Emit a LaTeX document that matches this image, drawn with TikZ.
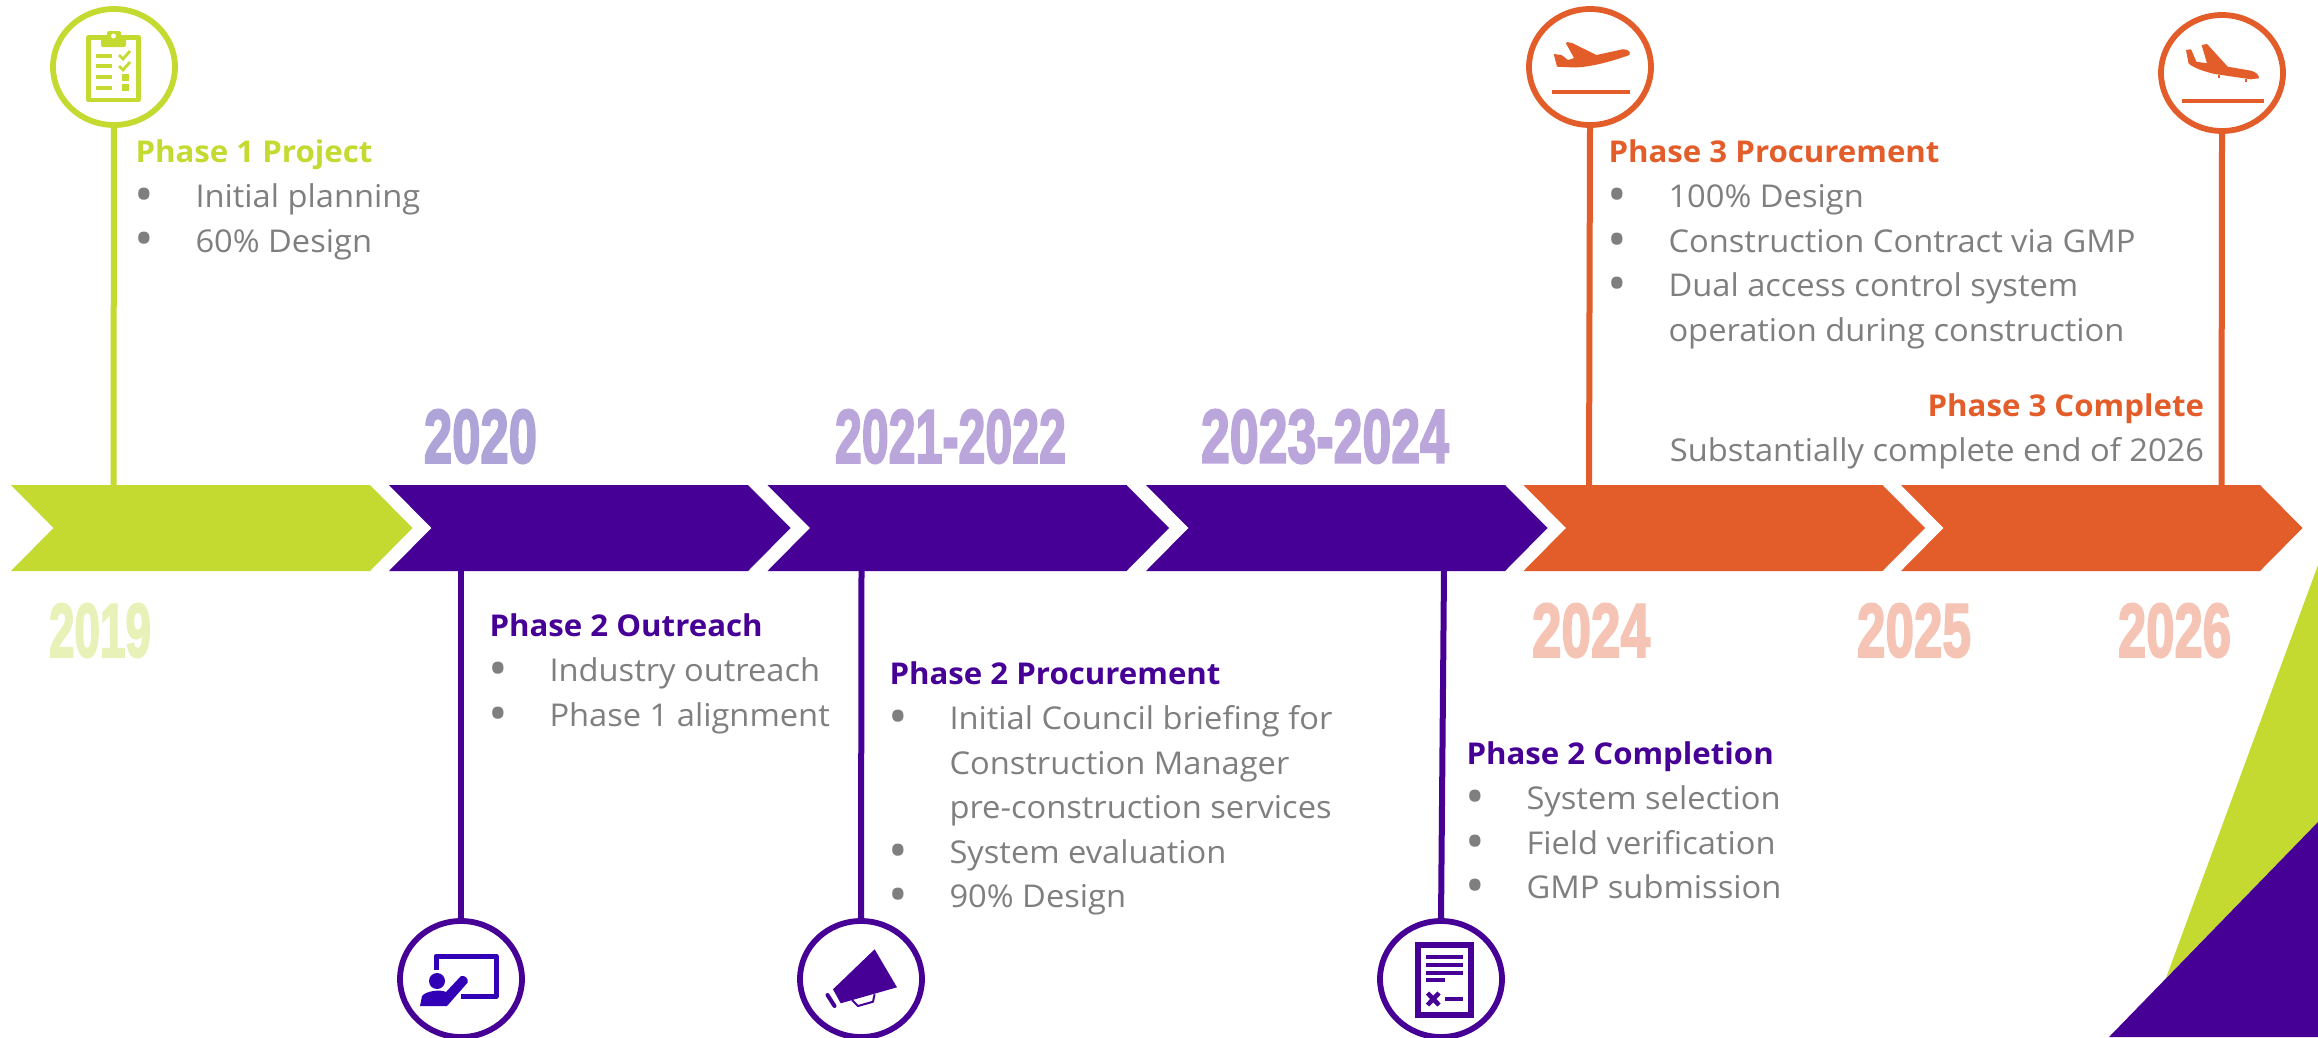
\documentclass[tikz,border=0pt]{standalone}
\usepackage{fontspec}
\usetikzlibrary{shapes.geometric}
\setmainfont[FakeStretch=1.04]{Open Sans}
\newfontfamily\yearfont[FakeBold=3]{Liberation Sans Bold}
\definecolor{lime}{HTML}{C4DA30}
\definecolor{indigo}{HTML}{460096}
\definecolor{flame}{HTML}{E35D2B}
\definecolor{bodygray}{HTML}{7F7F7F}
\definecolor{ylime}{HTML}{E8F2B8}
\definecolor{ypurpa}{HTML}{AEA4D8}
\definecolor{ypurpb}{HTML}{BBA6DB}
\definecolor{yflame}{HTML}{F5C4B5}
\newcommand{\hdg}[2]{\textcolor{#1}{\fontsize{30}{44.6}\selectfont\bfseries #2}}
\newcommand{\bul}[1]{\makebox[60pt][l]{\hspace*{-1.5pt}\raisebox{-5pt}{\scalebox{1.6}{\textbullet}}}#1}
\newcommand{\cont}[1]{\makebox[60pt][l]{}#1}
\newcommand{\yr}[3]{\resizebox{#1pt}{#2pt}{\yearfont #3}}
\newcommand{\chev}[3]{%
  \fill[#3] (#1,485) -- ++(359,0) -- ++(42.5,43) -- ++(-42.5,43) -- ++(-359,0) -- ++(42.5,-43) -- cycle;
  \coordinate (#2-l) at (#1,485);}
\tikzset{
  blk/.style={inner sep=0pt,outer sep=0pt,text=bodygray,align=left,anchor=north west,
    font=\fontsize{31.4}{44.6}\selectfont},
  blkr/.style={blk,align=right,anchor=north east},
  ring/.style={ellipse,draw=#1,line width=5.8pt,fill=white,minimum width=122pt,minimum height=116pt,inner sep=0pt,outer sep=0pt},
  stem/.style={draw=#1,line width=6pt},
  year/.style={inner sep=0pt,outer sep=0pt,text=#1},
}
\begin{document}
\begin{tikzpicture}[x=1pt,y=-1pt]
\clip (0,0) rectangle (2318,1037);
\fill[white] (0,0) rectangle (2318,1037);
% corner triangles
\fill[lime] (2318,565) -- (2166,978) -- (2318,822) -- cycle;
\fill[indigo] (2109,1037) -- (2318,822) -- (2318,1037) -- cycle;
% rings
\node[ring=lime] (c1) at (114,67) {};
\node[ring=indigo] (c2) at (461,979) {};
\node[ring=indigo] (c3) at (861,979) {};
\node[ring=indigo] (c4) at (1441,979) {};
\node[ring=flame] (c5) at (1590,67) {};
\node[ring=flame] (c6) at (2222,73) {};
% stem ends on the bar
\coordinate (s1) at (113.5,486);
\coordinate (s2) at (461,570);
\coordinate (s3) at (861.5,570);
\coordinate (s4) at (1444,570);
\coordinate (s5) at (1589,486);
\coordinate (s6) at (2221.5,486);
\draw[stem=lime] (c1.south) -- (s1);
\draw[stem=indigo] (c2.north) -- (s2);
\draw[stem=indigo] (c3.north) -- (s3);
\draw[stem=indigo] (c4.north) -- (s4);
\draw[stem=flame] (c5.south) -- (s5);
\draw[stem=flame] (c6.south) -- (s6);
% chevrons
\chev{11}{b1}{lime}
\chev{389}{b2}{indigo}
\chev{767.5}{b3}{indigo}
\chev{1146}{b4}{indigo}
\chev{1523.5}{b5}{flame}
\chev{1901}{b6}{flame}
% clipboard icon
\draw[lime,line width=4.5pt,line join=round] (88.5,37.5) rectangle (138.5,100);
\fill[lime,rounded corners=2pt] (101,37) -- (107,37) -- (107,31) -- (121,31) -- (121,37) -- (126,37) -- (126,47) -- (101,47) -- cycle;
\fill[white] (113.5,36) circle (2.5pt);
\foreach \yy in {56,65.7,77,88} \fill[lime] (96,\yy-2) rectangle (112,\yy+2);
\draw[lime,line width=2.8pt] (119,55) -- (123,59) -- (130,51);
\draw[lime,line width=2.8pt] (119,66) -- (123,70) -- (130,62);
\fill[lime] (122,74) rectangle (129,81);
\fill[lime] (122,84) rectangle (129,91);
% presentation icon
\draw[indigo!70!blue,line width=5pt,line join=round] (436,970) -- (436,956) -- (496,956) -- (496,996.5) -- (461,996.5);
\fill[indigo!70!blue] (437,981) circle (8pt);
\fill[indigo!70!blue,line join=round] (420,1006) -- (422,996) .. controls (426,991) and (440,989) .. (446,992) -- (461,976) .. controls (465,975) and (469,979) .. (467.5,982.7) -- (447,1006) -- cycle;
% megaphone icon
\fill[indigo,line join=round] (833,989.3) -- (874.6,949.3) -- (897,987.3) -- (840.7,1003.3) -- cycle;
\draw[indigo,line width=4pt,line cap=round] (827.5,995) -- (834.5,1006);
\draw[indigo,line width=2pt,line join=round] (852,1000) -- (858,1006) -- (873,1001.7) -- (874.6,994.3);
% document icon
\draw[indigo,line width=6pt] (1418,945) rectangle (1471,1015);
\foreach \yy in {957,965,973} \fill[indigo] (1426,\yy-2.3) rectangle (1463,\yy+2.3);
\fill[indigo] (1426,977.7) rectangle (1445,982.3);
\draw[indigo,line width=4.5pt] (1427.5,993) -- (1439,1005) (1427.5,1005) -- (1439,993);
\fill[indigo] (1445,996.7) rectangle (1463,1001.3);
% take-off icon
\fill[flame,line join=round] (1553.7,54) -- (1557.5,54.5) -- (1561.5,55) -- (1568,60) -- (1574,58) -- (1566,43.5) -- (1567,42) -- (1572,43) -- (1596.5,55) -- (1622.6,49.3) .. controls (1628,49) and (1631,52) .. (1629.4,55) .. controls (1610,62) and (1590,67) .. (1575,67.5) -- (1557,66.7) -- cycle;
\fill[flame] (1552,89.5) rectangle (1630,94);
% landing icon
\fill[flame,line join=round] (2186,50) -- (2191,49.3) -- (2196.4,61.7) -- (2207,63.3) -- (2201.6,45) -- (2207,44) -- (2227.7,66.7) -- (2251,70.7) .. controls (2256,72) and (2259,75) .. (2259,78.3) -- (2251,79.3) -- (2214.7,74) .. controls (2202,71) and (2192,67) .. (2188.5,63.3) -- cycle;
\fill[flame] (2218,75) rectangle (2220,78);
\fill[flame] (2245,79) rectangle (2247,82);
\fill[flame] (2182,99) rectangle (2264,103);
% years
\node[year=ylime] (y2019) at (100,630.5) {\yr{102}{53}{2019}};
\node[year=ypurpa] (y2020) at (480.5,436.5) {\yr{113}{53}{2020}};
\node[year=ypurpb] (y2021) at (950.5,436.5) {\yr{231}{53}{2021-2022}};
\node[year=ypurpb] (y2023) at (1325,436.5) {\yr{248}{53}{2023-2024}};
\node[year=yflame] (y2024) at (1591,630.5) {\yr{118}{53}{2024}};
\node[year=yflame] (y2025) at (1914,630.5) {\yr{114}{53}{2025}};
\node[year=yflame] (y2026) at (2174.5,630.5) {\yr{113}{53}{2026}};
% text
\node[blk] (t1) at (135.5,140) {\hdg{lime}{Phase 1 Project}\\\bul{Initial planning}\\\bul{60\% Design}};
\node[blk] (t2) at (489.5,614) {\hdg{indigo}{Phase 2 Outreach}\\\bul{Industry outreach}\\\bul{Phase 1 alignment}};
\node[blk] (t3) at (889.5,662) {\hdg{indigo}{Phase 2 Procurement}\\\bul{Initial Council briefing for}\\\cont{Construction Manager}\\\cont{pre-construction services}\\\bul{System evaluation}\\\bul{90\% Design}};
\node[blk] (t4) at (1466.5,742) {\hdg{indigo}{Phase 2 Completion}\\\bul{System selection}\\\bul{Field verification}\\\bul{GMP submission}};
\node[blk] (t5) at (1608.5,140) {\hdg{flame}{Phase 3 Procurement}\\\bul{100\% Design}\\\bul{Construction Contract via GMP}\\\bul{Dual access control system}\\\cont{operation during construction}};
\node[blkr] (t6) at (2204,394) {\hdg{flame}{Phase 3 Complete}\\Substantially complete end of 2026};
\end{tikzpicture}
\end{document}
